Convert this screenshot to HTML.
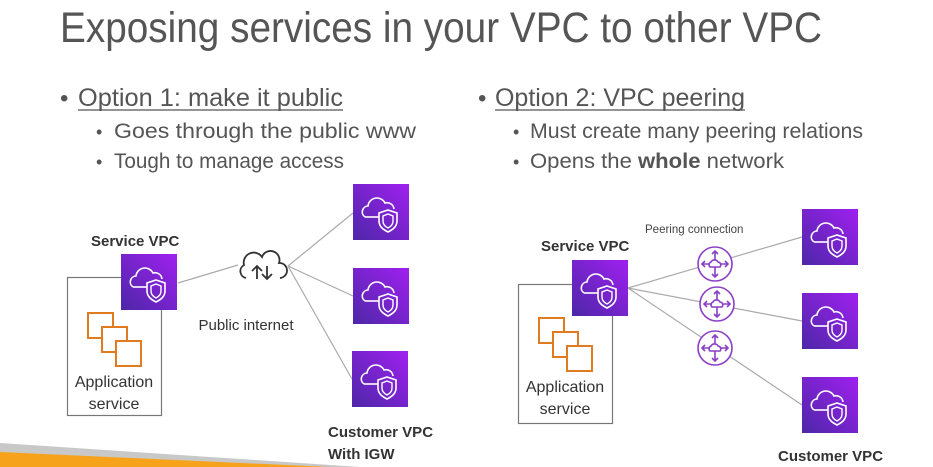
<!DOCTYPE html>
<html><head><meta charset="utf-8"><style>
html,body{margin:0;padding:0;background:#fff;}
svg{display:block;font-family:"Liberation Sans","DejaVu Sans",sans-serif;}
</style></head><body>
<svg width="933" height="467" viewBox="0 0 933 467" xmlns="http://www.w3.org/2000/svg">
<defs>
<linearGradient id="pg" x1="0" y1="1" x2="1" y2="0">
<stop offset="0" stop-color="#4d27a8"/><stop offset="1" stop-color="#a020f0"/>
</linearGradient>
<g id="vpc">
<rect x="0" y="0" width="56" height="56" fill="url(#pg)"/>
<path d="M12 33 a6 6 0 0 1 3-11 a9 9 0 0 1 17-3 a7 7 0 0 1 9 6" fill="none" stroke="#fff" stroke-width="1.6"/>
<path d="M12 33 h14" fill="none" stroke="#fff" stroke-width="1.6"/>
<path d="M35 26 l9 3 v8 c0 6-5 9-9 11 c-4-2-9-5-9-11 v-8 z" fill="none" stroke="#fff" stroke-width="1.6"/>
<path d="M35 30 l5 2 v5 c0 4-3 6-5 7 c-2-1-5-3-5-7 v-5 z" fill="none" stroke="#fff" stroke-width="1.4"/>
</g>
<g id="app" fill="none" stroke="#e07b1f" stroke-width="2">
<rect x="0" y="0" width="25" height="25"/>
<rect x="14" y="14" width="25" height="25" fill="#fff"/>
<rect x="28" y="28" width="25" height="25" fill="#fff"/>
</g>
<g id="peer" fill="none" stroke="#8a3fc6" stroke-width="1.6">
<circle cx="0" cy="0" r="17" fill="#fff"/>
<path d="M0 -13 v26 M-13 0 h26 M-3 -10 l3 -3 l3 3 M-3 10 l3 3 l3 -3 M-10 -3 l-3 3 l3 3 M10 -3 l3 3 l-3 3"/>
<path d="M-5 3 a3 3 0 0 1 1-5 a4 4 0 0 1 7 0 a3 3 0 0 1 2 5 z" fill="#fff"/>
</g>
</defs>

<polygon points="0,443 360,467 0,467" fill="#c8c8c8"/>
<polygon points="0,452 330,467 0,467" fill="#f7a21b"/>

<text x="60" y="42" font-size="43" fill="#555" textLength="762" lengthAdjust="spacingAndGlyphs">Exposing services in your VPC to other VPC</text>

<text x="60" y="106" font-size="24" fill="#555">•</text>
<text x="78" y="106" font-size="25" fill="#555" textLength="265" lengthAdjust="spacingAndGlyphs">Option 1: make it public</text>
<line x1="78" y1="110" x2="343" y2="110" stroke="#555" stroke-width="1.2"/>
<text x="96" y="138" font-size="18" fill="#555">•</text>
<text x="114" y="138" font-size="21" fill="#555" textLength="302" lengthAdjust="spacingAndGlyphs">Goes through the public www</text>
<text x="96" y="168" font-size="18" fill="#555">•</text>
<text x="114" y="168" font-size="21" fill="#555" textLength="230" lengthAdjust="spacingAndGlyphs">Tough to manage access</text>

<text x="478" y="106" font-size="24" fill="#555">•</text>
<text x="495" y="106" font-size="25" fill="#555" textLength="250" lengthAdjust="spacingAndGlyphs">Option 2: VPC peering</text>
<line x1="495" y1="110" x2="745" y2="110" stroke="#555" stroke-width="1.2"/>
<text x="513" y="138" font-size="18" fill="#555">•</text>
<text x="530" y="138" font-size="21" fill="#555" textLength="333" lengthAdjust="spacingAndGlyphs">Must create many peering relations</text>
<text x="513" y="168" font-size="18" fill="#555">•</text>
<text x="530" y="168" font-size="21" fill="#555" textLength="254" lengthAdjust="spacingAndGlyphs">Opens the <tspan font-weight="bold">whole</tspan> network</text>

<g stroke="#aaa" stroke-width="1.2">
<line x1="178" y1="283" x2="238" y2="265"/>
<line x1="288" y1="266" x2="353" y2="213"/>
<line x1="288" y1="266" x2="353" y2="296"/>
<line x1="288" y1="266" x2="352" y2="379"/>
</g>
<rect x="67.5" y="277.5" width="94" height="138" fill="none" stroke="#777" stroke-width="1.2"/>
<use href="#vpc" x="121" y="254"/>
<use href="#app" x="88" y="313"/>
<text x="91" y="246" font-size="15" font-weight="bold" fill="#333">Service VPC</text>
<text x="114" y="387" font-size="16" fill="#333" text-anchor="middle">Application</text>
<text x="114" y="409" font-size="16" fill="#333" text-anchor="middle">service</text>
<g fill="none" stroke="#333" stroke-width="1.8">
<path d="M246 278 a7 7 0 0 1 -2 -13 a10 10 0 0 1 18 -8 a9 9 0 0 1 17 6 a7 7 0 0 1 1 15"/>
<path d="M257 279 v-12 M252 271 l5 -5 l5 5 M267 266 v12 M262 274 l5 5 l5 -5"/>
</g>
<text x="246" y="330" font-size="15" fill="#333" text-anchor="middle">Public internet</text>
<use href="#vpc" x="353" y="184"/>
<use href="#vpc" x="353" y="268"/>
<use href="#vpc" x="352" y="351"/>
<text x="328" y="437" font-size="15" font-weight="bold" fill="#333">Customer VPC</text>
<text x="328" y="459" font-size="15" font-weight="bold" fill="#333">With IGW</text>

<g stroke="#aaa" stroke-width="1.2">
<line x1="628" y1="288" x2="802" y2="237"/>
<line x1="628" y1="288" x2="802" y2="321"/>
<line x1="628" y1="288" x2="802" y2="405"/>
</g>
<rect x="518.5" y="284.5" width="94" height="139" fill="none" stroke="#777" stroke-width="1.2"/>
<use href="#vpc" x="572" y="260"/>
<use href="#app" x="539" y="318"/>
<text x="541" y="251" font-size="15" font-weight="bold" fill="#333">Service VPC</text>
<text x="565" y="392" font-size="16" fill="#333" text-anchor="middle">Application</text>
<text x="565" y="414" font-size="16" fill="#333" text-anchor="middle">service</text>
<text x="645" y="233" font-size="11.5" fill="#444">Peering connection</text>
<use href="#peer" x="715" y="264"/>
<use href="#peer" x="717" y="304"/>
<use href="#peer" x="715" y="348"/>
<use href="#vpc" x="802" y="209"/>
<use href="#vpc" x="802" y="293"/>
<use href="#vpc" x="802" y="377"/>
<text x="778" y="461" font-size="15" font-weight="bold" fill="#333">Customer VPC</text>
</svg>
</body></html>
